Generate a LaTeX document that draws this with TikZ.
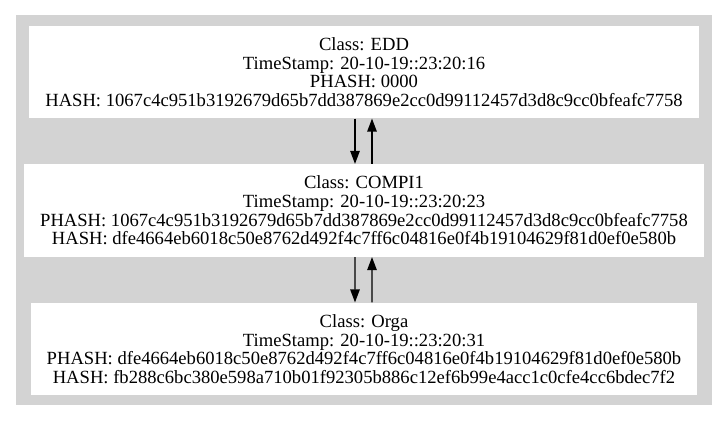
\documentclass[tikz,border=0pt]{standalone}
\usepackage{fontspec}
\setmainfont{Liberation Serif}
\usetikzlibrary{arrows.meta}
\definecolor{bggray}{HTML}{D3D3D3}

\begin{document}
\begin{tikzpicture}[x=1pt, y=1pt, level distance=138.5pt, ->,
      >={Triangle[length=13pt,width=9.5pt]}, line width=1.2pt,
      every node/.append style={font=\fontsize{18.6}{18.6}\selectfont}]
    \tikzstyle{record} = [fill=white,align=center,inner xsep=16pt,minimum height=92pt]
    \useasboundingbox (0,0) rectangle (728,421);
    \fill[bggray,-] (16,16) rectangle (712,406);
    \node (EDD) at (364,349) [record] {Class: EDD\\TimeStamp: 20-10-19::23:20:16\\PHASH: 0000\\HASH: 1067c4c951b3192679d65b7dd387869e2cc0d99112457d3d8c9cc0bfeafc7758}
      child {node (COMPI1) [record] {Class: COMPI1\\TimeStamp: 20-10-19::23:20:23\\PHASH: 1067c4c951b3192679d65b7dd387869e2cc0d99112457d3d8c9cc0bfeafc7758\\HASH: dfe4664eb6018c50e8762d492f4c7ff6c04816e0f4b19104629f81d0ef0e580b}
      {
        child {node (Orga) [record] {Class: Orga\\TimeStamp: 20-10-19::23:20:31\\PHASH: dfe4664eb6018c50e8762d492f4c7ff6c04816e0f4b19104629f81d0ef0e580b\\HASH: fb288c6bc380e598a710b01f92305b886c12ef6b99e4acc1c0cfe4cc6bdec7f2} edge from parent [draw=none]}
      } edge from parent [draw=none]}
      ;
      \draw ([xshift=-9pt]EDD.south) to ([xshift=-9pt]COMPI1.north);
      \draw ([xshift=8pt]COMPI1.north) to ([xshift=8pt]EDD.south);
      \draw ([xshift=-9pt]COMPI1.south) to ([xshift=-9pt]Orga.north);
      \draw ([xshift=8pt]Orga.north) to ([xshift=8pt]COMPI1.south);
  \end{tikzpicture}
\end{document}
